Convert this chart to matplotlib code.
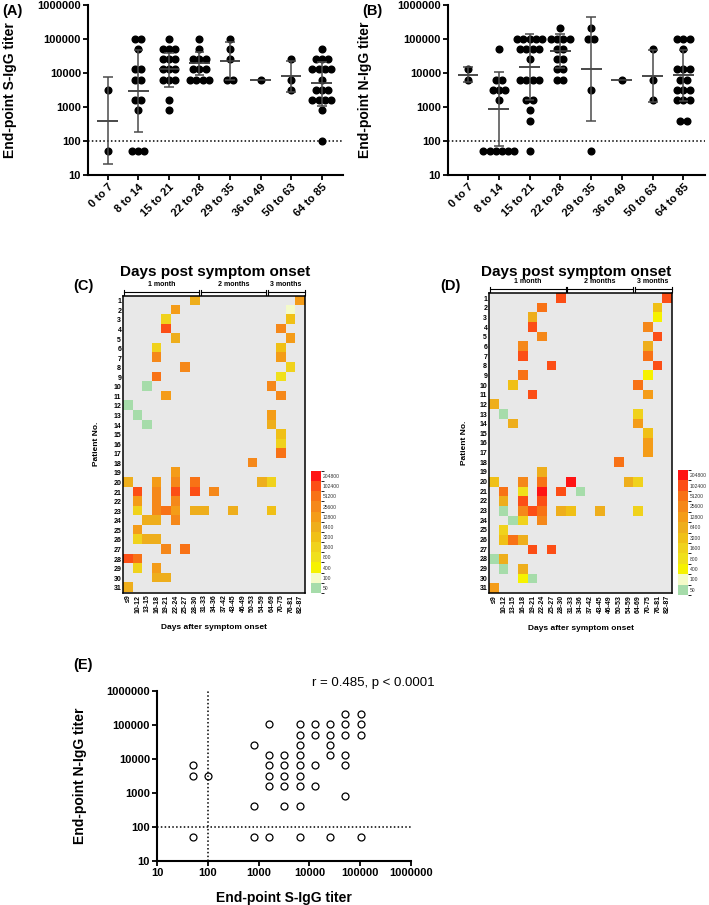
import numpy as np
import matplotlib
matplotlib.use('Agg')
import matplotlib.pyplot as plt
from matplotlib.colors import ListedColormap, BoundaryNorm
from matplotlib.cm import ScalarMappable
from matplotlib.ticker import NullLocator

plt.rcParams['font.family'] = ['Liberation Sans', 'DejaVu Sans']
plt.rcParams['font.weight'] = 'bold'
plt.rcParams['axes.labelweight'] = 'bold'

# ---- panels A / B: titers by days post symptom onset ----
groups = ['0 to 7', '8 to 14', '15 to 21', '22 to 28',
          '29 to 35', '36 to 49', '50 to 63', '64 to 85']

s_igg = [
    [3200, 50],
    [102400, 102400, 51200, 12800, 12800, 6400, 6400, 1600, 1600, 800, 50, 50, 50],
    [102400, 51200, 51200, 51200, 25600, 25600, 25600, 12800, 12800, 12800,
     6400, 6400, 6400, 1600, 800],
    [102400, 51200, 25600, 25600, 25600, 12800, 12800, 12800, 6400, 6400, 6400, 6400],
    [102400, 51200, 25600, 6400, 6400],
    [6400],
    [25600, 6400, 3200],
    [51200, 25600, 25600, 25600, 12800, 12800, 12800, 12800, 6400, 3200, 3200, 3200,
     1600, 1600, 1600, 1600, 800, 100],
]
s_mean = [400, 3000, 13400, 19600, 22600, 6400, 8100, 5200]
s_hi = [7600, 47000, 38000, 42000, 80000, None, 23000, 21500]
s_lo = [21, 180, 3800, 8800, 6400, None, 2800, 1100]

n_igg = [
    [12800, 6400],
    [51200, 6400, 6400, 3200, 3200, 3200, 1600, 50, 50, 50, 50, 50, 50],
    [102400] * 5 + [51200] * 4 + [25600] + [6400] * 4 + [1600] * 2 + [800, 400, 50],
    [204800] + [102400] * 4 + [51200] * 2 + [25600] * 2 + [12800] * 2 + [6400] * 2,
    [204800, 102400, 102400, 3200, 50],
    [6400],
    [51200, 6400, 1600],
    [102400] * 3 + [51200] + [12800] * 3 + [6400] * 2 + [3200] * 3 + [1600] * 3 + [400] * 2,
]
n_mean = [9000, 890, 15400, 45000, 13100, 6400, 8100, 8500]
n_hi = [15000, 11000, 145000, 137000, 430000, None, 47000, 47000]
n_lo = [5600, 73, 1600, 14500, 400, None, 1450, 1500]

log_ticks = [10, 100, 1000, 10000, 100000, 1000000]

# ---- panels C / D: heatmaps ----
columns = ['≤9', '10-12', '13-15', '16-18', '19-21', '22-24', '25-27', '28-30',
           '31-33', '34-36', '37-42', '43-45', '46-49', '50-53', '54-59',
           '64-69', '70-75', '76-81', '82-87']
levels = [50, 100, 400, 800, 1600, 3200, 6400, 12800, 25600, 51200, 102400, 204800]
level_colors = ['#a6dcaa', '#f4fbc8', '#f6f200', '#f0e01c', '#f0d21c', '#f0c016',
                '#eeae1c', '#f49c18', '#f5881a', '#f87216', '#fc4e16', '#ff1414']
months = [('1 month', '≤9', '28-30'), ('2 months', '31-33', '54-59'),
          ('3 months', '64-69', '82-87')]

s_cells = [
    (1, '28-30', 6400), (1, '82-87', 12800),
    (2, '22-24', 12800), (2, '76-81', 100),
    (3, '19-21', 1600), (3, '76-81', 3200),
    (4, '19-21', 102400), (4, '70-75', 25600),
    (5, '22-24', 6400), (5, '76-81', 12800),
    (6, '16-18', 1600), (6, '70-75', 3200),
    (7, '16-18', 25600), (7, '70-75', 12800),
    (8, '25-27', 25600), (8, '76-81', 1600),
    (9, '16-18', 51200), (9, '70-75', 800),
    (10, '13-15', 50), (10, '64-69', 25600),
    (11, '19-21', 12800), (11, '70-75', 25600),
    (12, '≤9', 50),
    (13, '10-12', 50), (13, '64-69', 12800),
    (14, '13-15', 50), (14, '64-69', 6400),
    (15, '70-75', 3200),
    (16, '70-75', 1600),
    (17, '70-75', 51200),
    (18, '50-53', 25600),
    (19, '22-24', 12800),
    (20, '≤9', 6400), (20, '16-18', 12800), (20, '22-24', 25600), (20, '28-30', 51200),
    (20, '54-59', 6400), (20, '64-69', 1600),
    (21, '10-12', 102400), (21, '16-18', 25600), (21, '22-24', 102400),
    (21, '28-30', 102400), (21, '34-36', 25600),
    (22, '10-12', 12800), (22, '16-18', 25600), (22, '22-24', 25600),
    (23, '10-12', 1600), (23, '16-18', 25600), (23, '19-21', 51200), (23, '22-24', 12800),
    (23, '28-30', 6400), (23, '31-33', 6400), (23, '43-45', 6400), (23, '64-69', 3200),
    (24, '13-15', 6400), (24, '16-18', 6400), (24, '22-24', 25600),
    (25, '10-12', 12800),
    (26, '10-12', 1600), (26, '13-15', 6400), (26, '16-18', 6400),
    (27, '19-21', 25600), (27, '25-27', 51200),
    (28, '≤9', 102400), (28, '10-12', 51200),
    (29, '10-12', 1600), (29, '16-18', 12800),
    (30, '16-18', 6400), (30, '19-21', 6400),
    (31, '≤9', 6400),
]

n_cells = [
    (1, '28-30', 102400), (1, '82-87', 102400),
    (2, '22-24', 51200), (2, '76-81', 3200),
    (3, '19-21', 6400), (3, '76-81', 400),
    (4, '19-21', 102400), (4, '70-75', 25600),
    (5, '22-24', 25600), (5, '76-81', 102400),
    (6, '16-18', 25600), (6, '70-75', 6400),
    (7, '16-18', 102400), (7, '70-75', 51200),
    (8, '25-27', 102400), (8, '76-81', 102400),
    (9, '16-18', 51200), (9, '70-75', 400),
    (10, '13-15', 3200), (10, '64-69', 51200),
    (11, '19-21', 102400), (11, '70-75', 12800),
    (12, '≤9', 6400),
    (13, '10-12', 50), (13, '64-69', 1600),
    (14, '13-15', 6400), (14, '64-69', 12800),
    (15, '70-75', 3200),
    (16, '70-75', 12800),
    (17, '70-75', 12800),
    (18, '50-53', 51200),
    (19, '22-24', 6400),
    (20, '≤9', 3200), (20, '16-18', 25600), (20, '22-24', 51200), (20, '31-33', 204800),
    (20, '54-59', 6400), (20, '64-69', 1600),
    (21, '10-12', 51200), (21, '16-18', 800), (21, '22-24', 204800),
    (21, '28-30', 102400), (21, '34-36', 50),
    (22, '10-12', 6400), (22, '16-18', 102400), (22, '22-24', 102400),
    (23, '10-12', 50), (23, '16-18', 25600), (23, '19-21', 102400), (23, '22-24', 51200),
    (23, '28-30', 6400), (23, '31-33', 3200), (23, '43-45', 6400), (23, '64-69', 1600),
    (24, '13-15', 50), (24, '16-18', 1600), (24, '22-24', 25600),
    (25, '10-12', 1600),
    (26, '10-12', 3200), (26, '13-15', 51200), (26, '16-18', 6400),
    (27, '19-21', 102400), (27, '25-27', 102400),
    (28, '≤9', 50), (28, '10-12', 6400),
    (29, '10-12', 50), (29, '16-18', 6400),
    (30, '16-18', 400), (30, '19-21', 50),
    (31, '≤9', 12800),
]

# ---- panel E: S-IgG vs N-IgG ----
e_s = [50, 50, 50,
       100,
       800, 800, 800,
       1600, 1600, 1600, 1600, 1600, 1600,
       3200, 3200, 3200, 3200, 3200,
       6400, 6400, 6400, 6400, 6400, 6400, 6400, 6400, 6400,
       12800, 12800, 12800, 12800,
       25600, 25600, 25600, 25600, 25600,
       51200, 51200, 51200, 51200, 51200, 51200,
       102400, 102400, 102400, 102400]
e_n = [6400, 3200, 50,
       3200,
       25600, 400, 50,
       102400, 12800, 6400, 3200, 1600, 50,
       12800, 6400, 3200, 1600, 400,
       102400, 51200, 25600, 12800, 6400, 3200, 1600, 400, 50,
       102400, 51200, 6400, 1600,
       102400, 51200, 25600, 12800, 50,
       204800, 102400, 51200, 12800, 6400, 800,
       204800, 102400, 51200, 50]

W, H = 709, 905
fig = plt.figure(figsize=(W / 100, H / 100), dpi=100)


def px_rect(left, top, right, bottom):
    return [left / W, 1 - bottom / H, (right - left) / W, (bottom - top) / H]


def spread(center, values, step=0.2):
    xs, ys = [], []
    for v in sorted(set(values), reverse=True):
        k = values.count(v)
        for j in range(k):
            xs.append(center + (j - (k - 1) / 2) * step)
            ys.append(v)
    return xs, ys


def log_axis(axis):
    axis.set_ticks(log_ticks)
    axis.set_ticklabels([str(t) for t in log_ticks])
    axis.set_minor_locator(NullLocator())


def style_axes(ax):
    for side in ['top', 'right']:
        ax.spines[side].set_visible(False)
    for side in ['left', 'bottom']:
        ax.spines[side].set_linewidth(1.5)
    ax.tick_params(width=1.3, length=3.5, labelsize=8, pad=1.5)


def dot_panel(rect, values, mean, lo, hi, ylabel, ylab_x):
    ax = fig.add_axes(rect)
    for i, vals in enumerate(values):
        xs, ys = spread(i, vals)
        ax.plot(xs, ys, 'o', color='black', ms=4.8, zorder=2, clip_on=False)
        ax.hlines(mean[i], i - 0.34, i + 0.34, color='#3a3a3a', lw=1.3, zorder=3)
        if hi[i] is not None:
            ax.vlines(i, lo[i], hi[i], color='#4a4a4a', lw=1.1, zorder=3)
            ax.hlines([lo[i], hi[i]], i - 0.16, i + 0.16, color='#4a4a4a', lw=1.1, zorder=3)
    ax.axhline(100, color='black', ls=(0, (1, 1.5)), lw=1.1, zorder=1)
    ax.set_yscale('log')
    ax.set_ylim(10, 1e6)
    ax.set_xlim(-0.65, 7.7)
    log_axis(ax.yaxis)
    ax.set_xticks(range(len(groups)))
    ax.set_xticklabels(groups, rotation=45, ha='right', rotation_mode='anchor')
    style_axes(ax)
    ax.set_ylabel(ylabel, fontsize=10)
    ax.yaxis.set_label_coords(ylab_x, 0.5)
    ax.set_xlabel('Days post symptom onset', fontsize=11)
    ax.xaxis.set_label_coords(0.5, -0.53)
    return ax


dot_panel(px_rect(88, 5, 343, 175), s_igg, s_mean, s_lo, s_hi,
          'End-point S-IgG titer', -0.278)
dot_panel(px_rect(448, 5, 705, 175), n_igg, n_mean, n_lo, n_hi,
          'End-point N-IgG titer', -0.296)

cmap = ListedColormap(level_colors)
cmap.set_bad('#e8e8e8')
norm = BoundaryNorm(np.arange(-0.5, len(levels) + 0.5, 1), len(levels))


def heat_panel(rect, cbar_rect, cells, ylab_x):
    grid = np.full((31, len(columns)), np.nan)
    for p, c, t in cells:
        grid[p - 1, columns.index(c)] = levels.index(t)
    ax = fig.add_axes(rect)
    ax.imshow(np.ma.masked_invalid(grid), cmap=cmap, norm=norm,
              aspect='auto', interpolation='nearest')
    ax.set_xticks(range(len(columns)))
    ax.set_xticklabels(columns, rotation=90, fontsize=5)
    ax.set_yticks(range(31))
    ax.set_yticklabels([str(i) for i in range(1, 32)], fontsize=5)
    ax.tick_params(length=0, pad=1.5)
    for s in ax.spines.values():
        s.set_linewidth(1.1)
    for name, a, b in months:
        x0 = columns.index(a) - 0.5 + 0.08
        x1 = columns.index(b) + 0.5 - 0.08
        ax.plot([x0, x1], [-0.9, -0.9], color='black', lw=0.8, clip_on=False)
        for x in (x0, x1):
            ax.plot([x, x], [-0.65, -1.15], color='black', lw=0.8, clip_on=False)
        ax.text((x0 + x1) / 2, -1.75, name, ha='center', va='center', fontsize=5)
    ax.set_xlim(-0.5, len(columns) - 0.5)
    ax.set_ylim(30.5, -0.5)
    ax.set_xlabel('Days after symptom onset', fontsize=6)
    ax.xaxis.set_label_coords(0.5, -0.106)
    ax.set_ylabel('Patient No.', fontsize=6)
    ax.yaxis.set_label_coords(ylab_x, 0.5)

    cax = fig.add_axes(cbar_rect)
    cb = fig.colorbar(ScalarMappable(norm=norm, cmap=cmap), cax=cax,
                      ticks=range(len(levels)))
    cb.set_ticklabels([str(v) for v in levels])
    cb.outline.set_visible(False)
    cax.tick_params(length=0, labelsize=3.6, pad=1.5, colors='#333333')
    for t in cax.get_yticklabels():
        t.set_fontweight('normal')


heat_panel(px_rect(123.3, 296, 305.3, 592.5), px_rect(311, 471, 321, 593),
           s_cells, -0.128)
heat_panel(px_rect(489.3, 293.2, 672.3, 592.8), px_rect(678, 470, 688, 595),
           n_cells, -0.116)

# panel E
ax = fig.add_axes(px_rect(157, 690.7, 411, 860.7))
ax.plot(e_s, e_n, 'o', ms=5, mfc='none', mec='black', mew=0.9, ls='none',
        clip_on=False, zorder=3)
ax.axvline(100, color='black', ls=(0, (1, 1.5)), lw=1.1)
ax.axhline(100, color='black', ls=(0, (1, 1.5)), lw=1.1)
ax.set_xscale('log')
ax.set_yscale('log')
ax.set_xlim(10, 1e6)
ax.set_ylim(10, 1e6)
log_axis(ax.xaxis)
log_axis(ax.yaxis)
style_axes(ax)
ax.set_xlabel('End-point S-IgG titer', fontsize=10)
ax.xaxis.set_label_coords(0.5, -0.178)
ax.set_ylabel('End-point N-IgG titer', fontsize=10)
ax.yaxis.set_label_coords(-0.276, 0.5)

fig.text(312 / W, 1 - 683 / H, 'r = 0.485, p < 0.0001', fontsize=9.5,
         fontweight='normal', va='center')

for label, x, y in [('(A)', 2, 11), ('(B)', 362, 11), ('(C)', 73, 286),
                    ('(D)', 440, 286), ('(E)', 73, 665)]:
    fig.text(x / W, 1 - y / H, label, fontsize=10.5, fontweight='bold', va='center')

fig.savefig('out.png', dpi=100)
